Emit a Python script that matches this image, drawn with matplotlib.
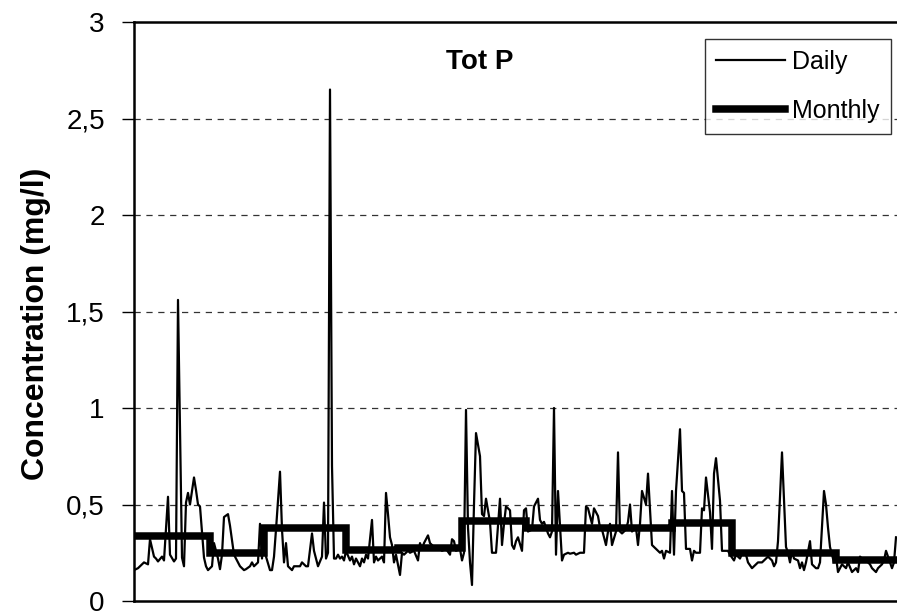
import matplotlib
matplotlib.use("Agg")
import matplotlib.pyplot as plt
import numpy as np

plt.rcParams["font.family"] = ["Liberation Sans", "DejaVu Sans"]

# daily total P (day number, mg/l)
day = [0, 2, 4, 5, 7, 8, 10, 11, 12, 14, 15, 17, 18, 20, 21, 22, 24, 25, 26, 27,
       28, 30, 31, 32, 33, 35, 36, 37, 39, 40, 42, 43, 44, 45, 47, 48, 50, 52, 53, 55,
       56, 58, 59, 60, 62, 63, 64, 65, 66, 68, 69, 70, 71, 73, 74, 75, 76, 77, 79, 80,
       81, 83, 84, 86, 87, 89, 90, 91, 92, 94, 95, 96, 97, 98, 99, 100,
       101, 102, 103, 104, 105, 106, 108, 109, 110, 111, 113, 114, 115, 116, 117, 119, 120,
       121, 122, 124, 125, 126, 127, 128,
       129, 130, 131, 133, 134, 135, 137, 138, 140, 142, 143, 144, 145, 147, 148, 149, 151,
       153, 154, 156, 158, 159, 160, 161, 163, 164, 165, 166, 167, 168, 169, 170, 171, 173,
       174, 175, 176, 178, 179, 180, 181, 183, 184, 185, 186, 188, 189, 190, 191,
       192, 194, 195, 196, 197, 199, 200, 202, 203, 204, 205, 207, 208, 209, 210, 211, 212,
       214, 215, 217, 218, 220, 221, 223, 225, 226, 227, 229, 230, 232, 233, 234, 236, 237,
       238, 239, 241, 242, 243, 244, 246, 247, 248, 249, 251, 252, 253, 254,
       256, 257, 258, 259, 260, 261, 263, 264, 265, 266, 268, 269, 270, 271, 273, 274, 275,
       276, 278, 279, 280, 281, 283, 284, 285, 286, 288, 289, 290, 291, 293, 294, 296, 297,
       298, 300, 301, 303, 304, 306, 307, 309, 311, 312, 314, 316, 317, 319,
       320, 321, 322, 324, 326, 327, 328, 329, 330, 332, 333, 334, 335, 336, 338, 339, 341,
       342, 343, 345, 346, 347, 348, 350, 351, 352, 353, 354, 356, 357, 359, 361, 362, 363,
       364, 366, 368, 369, 371, 372, 374, 375, 376, 378, 379, 380, 381]
daily = [0.16, 0.17, 0.19, 0.20, 0.19, 0.32, 0.23, 0.22, 0.205, 0.23, 0.21, 0.54, 0.24, 0.205, 0.22, 1.56, 0.225, 0.18, 0.51, 0.56,
         0.50, 0.64, 0.575, 0.50, 0.49, 0.225, 0.18, 0.16, 0.18, 0.30, 0.22, 0.165, 0.24, 0.435, 0.45, 0.39, 0.24, 0.20, 0.18, 0.16,
         0.165, 0.18, 0.20, 0.18, 0.20, 0.40, 0.22, 0.37, 0.23, 0.16, 0.16, 0.23, 0.37, 0.67, 0.37, 0.20, 0.30, 0.18, 0.16, 0.18,
         0.18, 0.18, 0.20, 0.18, 0.18, 0.35, 0.26, 0.22, 0.18, 0.23, 0.51, 0.22, 0.25, 2.65, 0.70, 0.22,
         0.22, 0.24, 0.22, 0.23, 0.21, 0.26, 0.21, 0.23, 0.19, 0.22, 0.18, 0.22, 0.20, 0.24, 0.22, 0.42, 0.20,
         0.23, 0.21, 0.23, 0.20, 0.56, 0.45, 0.33,
         0.29, 0.20, 0.24, 0.135, 0.25, 0.24, 0.26, 0.25, 0.26, 0.21, 0.30, 0.27, 0.30, 0.34, 0.30, 0.29, 0.27,
         0.27, 0.26, 0.27, 0.24, 0.32, 0.31, 0.26, 0.27, 0.21, 0.25, 0.99, 0.38, 0.20, 0.083, 0.50, 0.87, 0.75,
         0.45, 0.44, 0.53, 0.41, 0.25, 0.25, 0.25, 0.53, 0.29, 0.40, 0.49, 0.47, 0.29, 0.27, 0.31,
         0.33, 0.26, 0.47, 0.48, 0.36, 0.37, 0.49, 0.53, 0.42, 0.40, 0.41, 0.35, 0.33, 0.36, 1.00, 0.24, 0.57,
         0.21, 0.24, 0.25, 0.245, 0.25, 0.24, 0.25, 0.25, 0.49, 0.48, 0.40, 0.48, 0.44, 0.38, 0.37, 0.29, 0.36,
         0.40, 0.29, 0.36, 0.77, 0.36, 0.35, 0.37, 0.41, 0.50, 0.36, 0.38, 0.29, 0.40, 0.57,
         0.50, 0.66, 0.47, 0.29, 0.28, 0.27, 0.25, 0.26, 0.22, 0.26, 0.25, 0.57, 0.24, 0.57, 0.89, 0.57, 0.56,
         0.27, 0.27, 0.21, 0.26, 0.25, 0.25, 0.48, 0.47, 0.64, 0.46, 0.27, 0.66, 0.74, 0.52, 0.26, 0.26, 0.26,
         0.24, 0.21, 0.24, 0.22, 0.245, 0.24, 0.20, 0.17, 0.19, 0.20, 0.20, 0.22, 0.23, 0.21,
         0.18, 0.20, 0.31, 0.77, 0.28, 0.25, 0.20, 0.26, 0.22, 0.21, 0.17, 0.20, 0.16, 0.20, 0.31, 0.19, 0.17,
         0.17, 0.20, 0.57, 0.50, 0.38, 0.28, 0.20, 0.23, 0.15, 0.17, 0.19, 0.17, 0.20, 0.15, 0.17, 0.15, 0.23,
         0.22, 0.21, 0.19, 0.17, 0.15, 0.17, 0.19, 0.21, 0.26, 0.20, 0.17, 0.20, 0.33]

# monthly means: first day of each period and value
month_start = [0, 38, 65, 106, 132, 164, 196, 269, 299, 351]
monthly = [0.335, 0.25, 0.378, 0.264, 0.274, 0.414, 0.378, 0.404, 0.248, 0.215]
last_day = 383

fig = plt.figure(figsize=(8.97, 6.11), dpi=100)
ax = fig.add_axes([134 / 897, 10 / 611, 766 / 897, 579 / 611])

ax.plot(day, daily, color="black", lw=1.6, label="Daily", zorder=3)
ax.plot(month_start + [last_day], monthly + [monthly[-1]], color="black", lw=5.4,
        drawstyle="steps-post", solid_joinstyle="miter", label="Monthly", zorder=4)

ax.set_xlim(0, last_day)
ax.set_ylim(0, 3)
ax.set_yticks(np.arange(0, 3.01, 0.5))
ax.set_yticklabels(["0", "0,5", "1", "1,5", "2", "2,5", "3"])
ax.set_xticks([])
ax.tick_params(axis="y", direction="out", length=9, width=1, labelsize=20, pad=12)
for y in [0.5, 1, 1.5, 2, 2.5]:
    ax.axhline(y, color="#333333", lw=0.9, ls=(0, (5, 4.5)), zorder=1)

for s in ["left", "bottom", "top"]:
    ax.spines[s].set_linewidth(1.8)
ax.spines["right"].set_visible(False)

ax.set_ylabel("Concentration (mg/l)", fontsize=23, fontweight="bold", va="center")
ax.yaxis.set_label_coords(-0.128, 0.478)
ax.text(0.452, 0.931, "Tot P", transform=ax.transAxes, ha="center", va="center",
        fontsize=20, fontweight="bold")

leg = ax.legend(loc="upper right", bbox_to_anchor=(0.988, 0.971), borderaxespad=0,
                fontsize=18, frameon=True, fancybox=False, handlelength=2.75,
                handletextpad=0.3, borderpad=0.45, labelspacing=1.0)
leg.get_frame().set_edgecolor("black")
leg.get_frame().set_linewidth(1.0)

fig.savefig("out.png", dpi=100)
